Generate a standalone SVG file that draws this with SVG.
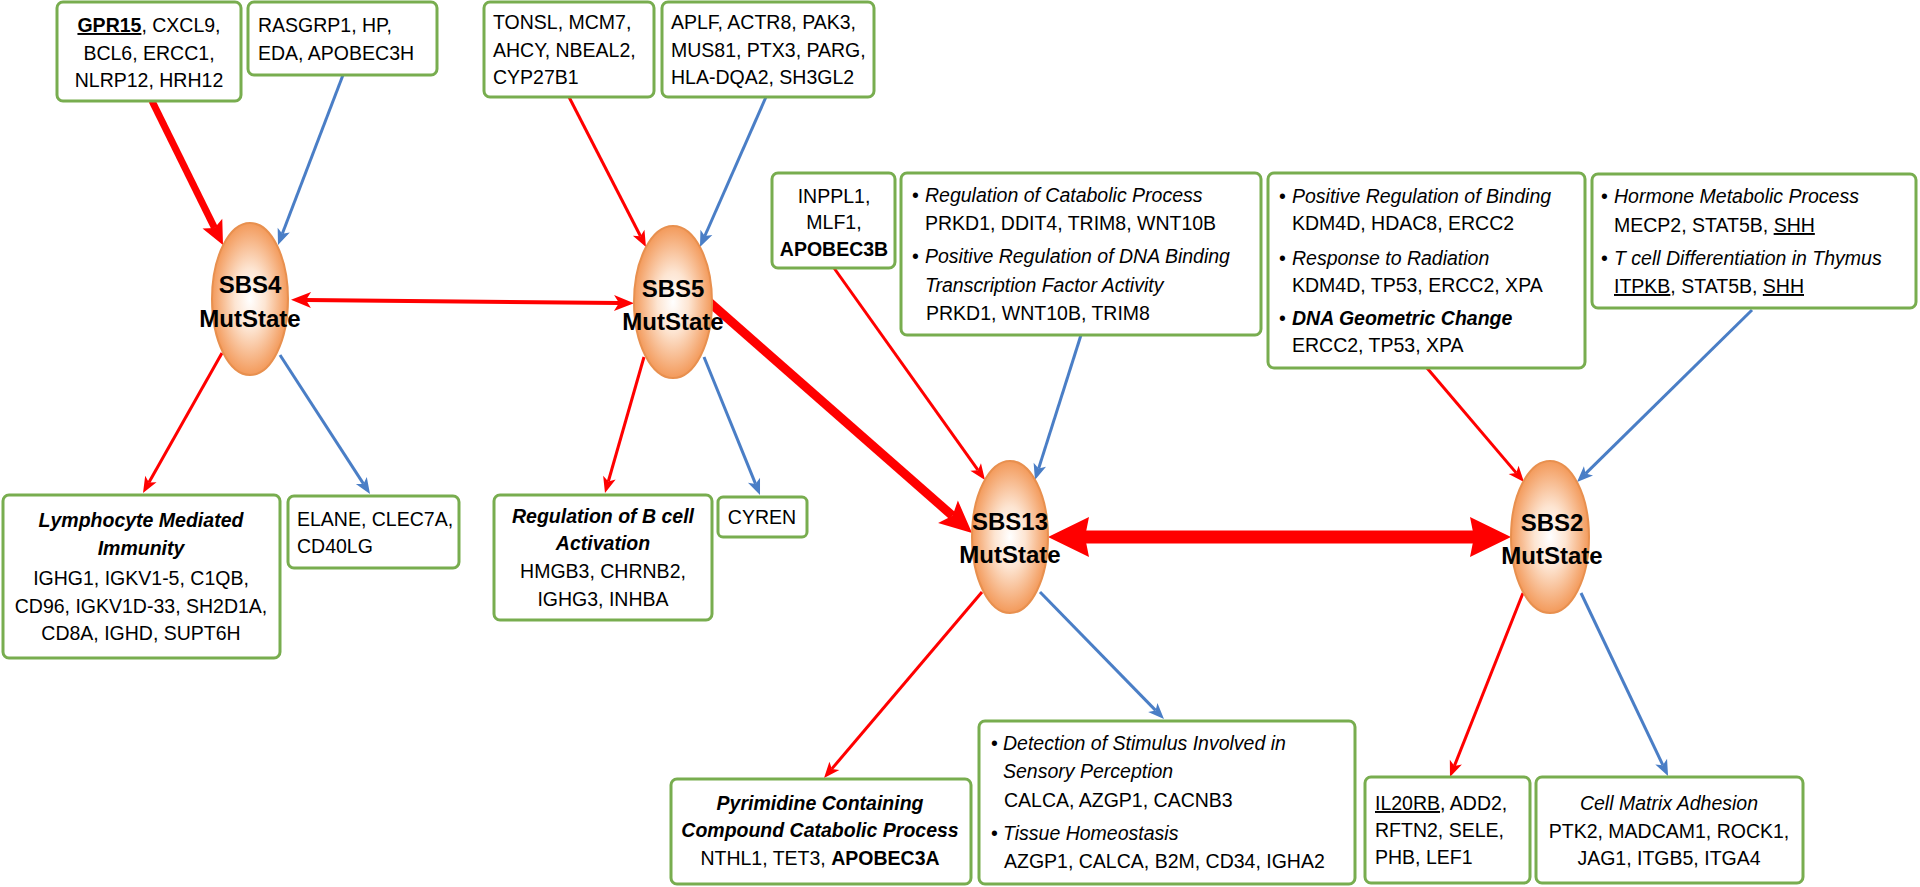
<svg xmlns="http://www.w3.org/2000/svg" width="1920" height="887" viewBox="0 0 1920 887">
<style>
.box{fill:#fff;stroke:#78AD4F;stroke-width:3}
.t{font-family:"Liberation Sans",Arial,sans-serif;font-size:19.5px;fill:#000}
.c{text-anchor:middle}
.i{font-style:italic}
.b{font-weight:bold}
.u{text-decoration:underline}
.nl{font-family:"Liberation Sans",Arial,sans-serif;font-size:24px;font-weight:bold;text-anchor:middle;fill:#000}
.ell{fill:url(#eg);stroke:#E8904F;stroke-width:2}
.r{stroke:#FF0000;fill:none}
.bl{stroke:#4A7EC6;fill:none}
</style>
<defs>
<radialGradient id="eg" cx="50%" cy="50%" r="50%">
<stop offset="0" stop-color="#FFFFFF"/>
<stop offset="0.4" stop-color="#FDE5D2"/>
<stop offset="1" stop-color="#F39A5B"/>
</radialGradient>
<marker id="mr" markerUnits="userSpaceOnUse" markerWidth="16" markerHeight="13" refX="4" refY="6.5" orient="auto" overflow="visible"><path d="M0,0 L16,6.5 L0,13 L4,6.5 z" fill="#FF0000"/></marker>
<marker id="mb" markerUnits="userSpaceOnUse" markerWidth="16" markerHeight="13" refX="4" refY="6.5" orient="auto" overflow="visible"><path d="M0,0 L16,6.5 L0,13 L4,6.5 z" fill="#4A7EC6"/></marker>
<marker id="mr2" markerUnits="userSpaceOnUse" markerWidth="20" markerHeight="16" refX="5" refY="8" orient="auto-start-reverse" overflow="visible"><path d="M0,0 L20,8 L0,16 L5,8 z" fill="#FF0000"/></marker>
<marker id="mrm" markerUnits="userSpaceOnUse" markerWidth="24" markerHeight="22" refX="5" refY="11" orient="auto" overflow="visible"><path d="M0,0 L24,11 L0,22 L5,11 z" fill="#FF0000"/></marker>
<marker id="mrb" markerUnits="userSpaceOnUse" markerWidth="32" markerHeight="30" refX="6" refY="15" orient="auto" overflow="visible"><path d="M0,0 L32,15 L0,30 L6,15 z" fill="#FF0000"/></marker>
<marker id="mrh" markerUnits="userSpaceOnUse" markerWidth="41" markerHeight="40" refX="4" refY="20" orient="auto-start-reverse" overflow="visible"><path d="M0,0 L41,20 L0,40 L4,20 z" fill="#FF0000"/></marker>
</defs>

<g id="connectors">
<line class="r" stroke-width="7" x1="152" y1="101" x2="214.6" y2="228" marker-end="url(#mrm)"/>
<line class="bl" stroke-width="3" x1="343" y1="75" x2="282.3" y2="233.8" marker-end="url(#mb)"/>
<line class="r" stroke-width="4" x1="306" y1="300" x2="619" y2="303" marker-start="url(#mr2)" marker-end="url(#mr2)"/>
<line class="r" stroke-width="3" x1="569" y1="97" x2="640.5" y2="236.3" marker-end="url(#mr)"/>
<line class="bl" stroke-width="3" x1="766" y1="97" x2="704.8" y2="236" marker-end="url(#mb)"/>
<line class="r" stroke-width="3" x1="222" y1="353" x2="148.9" y2="482.5" marker-end="url(#mr)"/>
<line class="bl" stroke-width="3" x1="280" y1="355" x2="363.5" y2="483.9" marker-end="url(#mb)"/>
<line class="r" stroke-width="3" x1="644" y1="357" x2="608.3" y2="481.5" marker-end="url(#mr)"/>
<line class="bl" stroke-width="3" x1="704" y1="357" x2="755.5" y2="483.9" marker-end="url(#mb)"/>
<line class="r" stroke-width="9" x1="708" y1="301" x2="952.5" y2="515.8" marker-end="url(#mrb)"/>
<line class="r" stroke-width="3" x1="834" y1="268" x2="978" y2="470.2" marker-end="url(#mr)"/>
<line class="bl" stroke-width="3" x1="1081" y1="335" x2="1038.6" y2="468.6" marker-end="url(#mb)"/>
<line class="r" stroke-width="13" x1="1085" y1="537" x2="1474" y2="537" marker-start="url(#mrh)" marker-end="url(#mrh)"/>
<line class="r" stroke-width="3" x1="1427" y1="368" x2="1516.2" y2="472.9" marker-end="url(#mr)"/>
<line class="bl" stroke-width="3" x1="1752" y1="310" x2="1585.6" y2="473.6" marker-end="url(#mb)"/>
<line class="r" stroke-width="3" x1="982" y1="592" x2="831.8" y2="768.9" marker-end="url(#mr)"/>
<line class="bl" stroke-width="3" x1="1040" y1="592" x2="1155.6" y2="710.4" marker-end="url(#mb)"/>
<line class="r" stroke-width="3" x1="1523" y1="593" x2="1454.4" y2="765.9" marker-end="url(#mr)"/>
<line class="bl" stroke-width="3" x1="1581" y1="593" x2="1662.9" y2="765.2" marker-end="url(#mb)"/>
</g>

<g id="sbs4">
<ellipse class="ell" cx="250" cy="299" rx="38" ry="76"/>
<text class="nl" x="250" y="293">SBS4</text>
<text class="nl" x="250" y="327">MutState</text>
</g>
<g id="sbs5">
<ellipse class="ell" cx="673" cy="302" rx="39" ry="76"/>
<text class="nl" x="673" y="297">SBS5</text>
<text class="nl" x="673" y="330">MutState</text>
</g>
<g id="sbs13">
<ellipse class="ell" cx="1010" cy="537" rx="38" ry="76"/>
<text class="nl" x="1010" y="530">SBS13</text>
<text class="nl" x="1010" y="563">MutState</text>
</g>
<g id="sbs2">
<ellipse class="ell" cx="1550" cy="537" rx="39" ry="76"/>
<text class="nl" x="1552" y="531">SBS2</text>
<text class="nl" x="1552" y="564">MutState</text>
</g>

<g id="box-gpr15">
<rect class="box" x="57" y="2" width="184" height="99" rx="6"/>
<text class="t c"><tspan x="149" y="32"><tspan class="b u">GPR15</tspan>, CXCL9,</tspan><tspan x="149" y="60">BCL6, ERCC1,</tspan><tspan x="149" y="87">NLRP12, HRH12</tspan></text>
</g>
<g id="box-rasgrp1">
<rect class="box" x="248" y="2" width="189" height="73" rx="6"/>
<text class="t"><tspan x="258" y="32">RASGRP1, HP,</tspan><tspan x="258" y="60">EDA, APOBEC3H</tspan></text>
</g>
<g id="box-tonsl">
<rect class="box" x="484" y="2" width="170" height="95" rx="6"/>
<text class="t"><tspan x="493" y="29">TONSL, MCM7,</tspan><tspan x="493" y="57">AHCY, NBEAL2,</tspan><tspan x="493" y="84">CYP27B1</tspan></text>
</g>
<g id="box-aplf">
<rect class="box" x="662" y="2" width="212" height="95" rx="6"/>
<text class="t"><tspan x="671" y="29">APLF, ACTR8, PAK3,</tspan><tspan x="671" y="57">MUS81, PTX3, PARG,</tspan><tspan x="671" y="84">HLA-DQA2, SH3GL2</tspan></text>
</g>
<g id="box-inppl1">
<rect class="box" x="772" y="173" width="123" height="95" rx="6"/>
<text class="t c"><tspan x="834" y="203">INPPL1,</tspan><tspan x="834" y="229">MLF1,</tspan><tspan x="834" y="256" class="b">APOBEC3B</tspan></text>
</g>
<g id="box-catabolic">
<rect class="box" x="901" y="173" width="360" height="162" rx="6"/>
<text class="t"><tspan x="912" y="202">•</tspan><tspan x="925" class="i">Regulation of Catabolic Process</tspan><tspan x="925" y="230">PRKD1, DDIT4, TRIM8, WNT10B</tspan><tspan x="912" y="263">•</tspan><tspan x="925" class="i">Positive Regulation of DNA Binding</tspan><tspan x="925" y="292" class="i">Transcription Factor Activity</tspan><tspan x="926" y="320">PRKD1, WNT10B, TRIM8</tspan></text>
</g>
<g id="box-binding">
<rect class="box" x="1268" y="173" width="317" height="195" rx="6"/>
<text class="t"><tspan x="1279" y="203">•</tspan><tspan x="1292" class="i">Positive Regulation of Binding</tspan><tspan x="1292" y="230">KDM4D, HDAC8, ERCC2</tspan><tspan x="1279" y="265">•</tspan><tspan x="1292" class="i">Response to Radiation</tspan><tspan x="1292" y="292">KDM4D, TP53, ERCC2, XPA</tspan><tspan x="1279" y="325">•</tspan><tspan x="1292" class="i b">DNA Geometric Change</tspan><tspan x="1292" y="352">ERCC2, TP53, XPA</tspan></text>
</g>
<g id="box-hormone">
<rect class="box" x="1592" y="174" width="324" height="134" rx="6"/>
<text class="t"><tspan x="1601" y="203">•</tspan><tspan x="1614" class="i">Hormone Metabolic Process</tspan><tspan x="1614" y="232">MECP2, STAT5B, <tspan class="u">SHH</tspan></tspan><tspan x="1601" y="265">•</tspan><tspan x="1614" class="i">T cell Differentiation in Thymus</tspan><tspan x="1614" y="293"><tspan class="u">ITPKB</tspan>, STAT5B, <tspan class="u">SHH</tspan></tspan></text>
</g>
<g id="box-lymphocyte">
<rect class="box" x="3" y="495" width="277" height="163" rx="6"/>
<text class="t c"><tspan x="141" y="527" class="b i">Lymphocyte Mediated</tspan><tspan x="141" y="555" class="b i">Immunity</tspan><tspan x="141" y="585">IGHG1, IGKV1-5, C1QB,</tspan><tspan x="141" y="613">CD96, IGKV1D-33, SH2D1A,</tspan><tspan x="141" y="640">CD8A, IGHD, SUPT6H</tspan></text>
</g>
<g id="box-elane">
<rect class="box" x="288" y="496" width="171" height="72" rx="6"/>
<text class="t"><tspan x="297" y="526">ELANE, CLEC7A,</tspan><tspan x="297" y="553">CD40LG</tspan></text>
</g>
<g id="box-bcell">
<rect class="box" x="494" y="495" width="218" height="125" rx="6"/>
<text class="t c"><tspan x="603" y="523" class="b i">Regulation of B cell</tspan><tspan x="603" y="550" class="b i">Activation</tspan><tspan x="603" y="578">HMGB3, CHRNB2,</tspan><tspan x="603" y="606">IGHG3, INHBA</tspan></text>
</g>
<g id="box-cyren">
<rect class="box" x="718" y="497" width="89" height="40" rx="5"/>
<text class="t c" x="762" y="524">CYREN</text>
</g>
<g id="box-pyrimidine">
<rect class="box" x="671" y="779" width="300" height="105" rx="6"/>
<text class="t c"><tspan x="820" y="810" class="b i">Pyrimidine Containing</tspan><tspan x="820" y="837" class="b i">Compound Catabolic Process</tspan><tspan x="820" y="865">NTHL1, TET3, <tspan class="b">APOBEC3A</tspan></tspan></text>
</g>
<g id="box-detection">
<rect class="box" x="979" y="721" width="376" height="163" rx="6"/>
<text class="t"><tspan x="991" y="750">•</tspan><tspan x="1003" class="i">Detection of Stimulus Involved in</tspan><tspan x="1003" y="778" class="i">Sensory Perception</tspan><tspan x="1004" y="807">CALCA, AZGP1, CACNB3</tspan><tspan x="991" y="840">•</tspan><tspan x="1003" class="i">Tissue Homeostasis</tspan><tspan x="1004" y="868">AZGP1, CALCA, B2M, CD34, IGHA2</tspan></text>
</g>
<g id="box-il20rb">
<rect class="box" x="1365" y="777" width="165" height="106" rx="6"/>
<text class="t"><tspan x="1375" y="810"><tspan class="u">IL20RB</tspan>, ADD2,</tspan><tspan x="1375" y="837">RFTN2, SELE,</tspan><tspan x="1375" y="864">PHB, LEF1</tspan></text>
</g>
<g id="box-cellmatrix">
<rect class="box" x="1536" y="777" width="267" height="106" rx="6"/>
<text class="t c"><tspan x="1669" y="810" class="i">Cell Matrix Adhesion</tspan><tspan x="1669" y="838">PTK2, MADCAM1, ROCK1,</tspan><tspan x="1669" y="865">JAG1, ITGB5, ITGA4</tspan></text>
</g>
</svg>
